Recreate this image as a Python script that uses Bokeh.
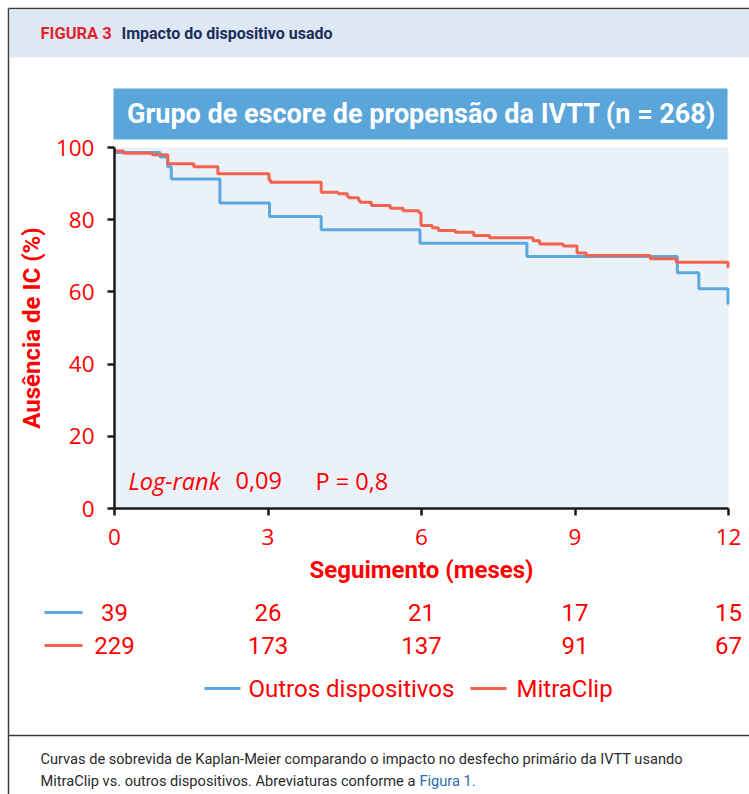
from bokeh.plotting import figure
from bokeh.models import Range1d, FixedTicker, LinearAxis
from bokeh.core.properties import value
from bokeh.embed import file_html
from bokeh.resources import INLINE

# ---------------- data ----------------
months = [0, 3, 6, 9, 12]
y_ticks = [0, 20, 40, 60, 80, 100]
at_risk_outros = [39, 26, 21, 17, 15]
at_risk_mitraclip = [229, 173, 137, 91, 67]

mitraclip_t = [0, 0.18, 0.74, 1.04, 1.55, 2.02, 3.02, 3.05, 4.04, 4.37, 4.55, 4.58,
               4.77, 4.80, 5.02, 5.39, 5.64, 5.95, 5.99, 6.21, 6.33, 6.66, 7.02, 7.33,
               8.18, 8.31, 8.77, 9.04, 9.22, 10.47, 10.98, 11.99, 12.0]
mitraclip_s = [99.0, 98.4, 98.0, 95.5, 94.7, 92.7, 91.0, 90.4, 87.6, 87.2, 86.4, 86.1,
               85.3, 84.8, 83.9, 83.2, 82.5, 81.9, 78.4, 77.8, 77.0, 76.5, 75.6, 75.0,
               74.2, 73.3, 72.7, 70.8, 70.1, 69.2, 68.2, 66.8, 66.8]

outros_t = [0, 0.89, 1.04, 1.11, 2.06, 3.03, 4.04, 5.97, 8.06, 11.0, 11.42, 11.99, 12.0]
outros_s = [98.6, 97.4, 94.7, 91.3, 84.6, 80.9, 77.2, 73.5, 69.8, 65.3, 60.9, 56.7, 56.7]

title_text = "Grupo de escore de propensão da IVTT (n = 268)"
fig_label = "FIGURA 3"
fig_title = "Impacto do dispositivo usado"
x_label = "Seguimento (meses)"
y_label = "Ausência de IC (%)"
series_names = ["Outros dispositivos", "MitraClip"]
stat_texts = ["Log-rank", "0,09", "P = 0,8"]
caption_1 = "Curvas de sobrevida de Kaplan-Meier comparando o impacto no desfecho primário da IVTT usando"
caption_2 = "MitraClip vs. outros dispositivos. Abreviaturas conforme a"
caption_link = "Figura 1."

# ---------------- layout (pixels of the page) ----------------
W, H = 749, 794
FX0, FX1 = 114, 728      # plot area left/right (px)
FY0, FY1 = 147, 508      # plot area top/bottom (px)
X_MAX, Y_MAX = 12, 100
PXU = (FX1 - FX0) / X_MAX
PYU = (FY1 - FY0) / Y_MAX


def dx(px):
    return (px - FX0) / PXU


def dy(py):
    return (FY1 - py) / PYU


RED_TXT = "#ff0000"
BLUE = "#5aa9de"
RED = "#f36350"
FRAME = "#3a3a3a"
COND = value("Roboto")
NUM = value("Open Sans")

p = figure(width=W, height=H, x_range=Range1d(dx(0), dx(W)), y_range=Range1d(dy(H), dy(0)),
           x_axis_type=None, y_axis_type=None, toolbar_location=None,
           output_backend="svg", min_border=0, outline_line_color=None,
           background_fill_color="white", border_fill_color="white")
p.grid.visible = False

# frame of the figure panel
p.segment(x0=[dx(8)], x1=[dx(W)], y0=[dy(8)], y1=[dy(8)], line_color=FRAME, line_width=1.5)
p.segment(x0=[dx(8)], x1=[dx(8)], y0=[dy(8)], y1=[dy(H)], line_color=FRAME, line_width=1.5)
p.segment(x0=[dx(8)], x1=[dx(W)], y0=[dy(735)], y1=[dy(735)], line_color=FRAME, line_width=1.5)

# header band
p.quad(left=dx(9), right=dx(W), top=dy(9), bottom=dy(57), fill_color="#dde8f4", line_color=None)
p.text(x=[dx(40)], y=[dy(33)], text=[fig_label], text_font=COND, text_font_style="bold",
       text_font_size="16.5px", text_color="#e3222d", text_baseline="middle")
p.text(x=[dx(121)], y=[dy(33)], text=[fig_title], text_font=COND, text_font_style="bold",
       text_font_size="16px", text_color="#1c2d5c", text_baseline="middle")

# title box
p.quad(left=dx(113), right=dx(727), top=dy(88), bottom=dy(139), fill_color="#5aa5da", line_color=None)
p.text(x=[dx(421)], y=[dy(113)], text=[title_text], text_font=COND, text_font_style="bold",
       text_font_size="27px", text_color="white", text_align="center", text_baseline="middle")

# plot area background
p.quad(left=0, right=X_MAX, bottom=0, top=Y_MAX, fill_color="#eaf1f9", line_color=None)

# axes
xa = LinearAxis(fixed_location=0, bounds=(0, X_MAX), ticker=FixedTicker(ticks=months),
                axis_label=x_label)
ya = LinearAxis(fixed_location=0, bounds=(0, Y_MAX), ticker=FixedTicker(ticks=y_ticks),
                axis_label=y_label)
for ax in (xa, ya):
    ax.axis_line_width = 2.5
    ax.axis_line_color = "#1a1a1a"
    ax.major_tick_line_width = 2.5
    ax.major_tick_line_color = "#1a1a1a"
    ax.major_tick_out = 7
    ax.major_tick_in = 0
    ax.minor_tick_line_color = None
    ax.major_label_text_color = RED_TXT
    ax.major_label_text_font = "Open Sans"
    ax.major_label_text_font_size = "22.5px"
    ax.axis_label_text_color = RED_TXT
    ax.axis_label_text_font = "Roboto"
    ax.axis_label_text_font_style = "bold"
    ax.axis_label_text_font_size = "24px"
xa.major_label_standoff = 13
xa.axis_label_standoff = 8
ya.major_label_standoff = 13
ya.axis_label_standoff = 7
p.add_layout(xa, "below")
p.add_layout(ya, "left")

# Kaplan-Meier curves
p.step(outros_t, outros_s, mode="after", line_color=BLUE, line_width=3)
p.step(mitraclip_t, mitraclip_s, mode="after", line_color=RED, line_width=3)

# statistics
p.text(x=[dx(128)], y=[dy(480)], text=[stat_texts[0]], text_font=NUM, text_font_style="italic",
       text_font_size="23.5px", text_color=RED_TXT, text_baseline="middle")
p.text(x=[dx(235), dx(315)], y=[dy(480), dy(480)], text=stat_texts[1:], text_font=NUM,
       text_font_size="23.5px", text_color=RED_TXT, text_baseline="middle")

# numbers at risk
p.segment(x0=[dx(44)], x1=[dx(82)], y0=[dy(612)], y1=[dy(612)], line_color=BLUE, line_width=3)
p.segment(x0=[dx(44)], x1=[dx(82)], y0=[dy(645)], y1=[dy(645)], line_color=RED, line_width=3)
p.text(x=months, y=[dy(612)] * len(months), text=[str(v) for v in at_risk_outros],
       text_font=COND, text_font_size="24px", text_color=RED_TXT,
       text_align="center", text_baseline="middle")
p.text(x=months, y=[dy(645)] * len(months), text=[str(v) for v in at_risk_mitraclip],
       text_font=COND, text_font_size="24px", text_color=RED_TXT,
       text_align="center", text_baseline="middle")

# legend
p.segment(x0=[dx(204), dx(470)], x1=[dx(240), dx(506)], y0=[dy(688)] * 2, y1=[dy(688)] * 2,
          line_color=[BLUE, RED], line_width=3)
p.text(x=[dx(248), dx(516)], y=[dy(688)] * 2, text=series_names, text_font=COND,
       text_font_size="24px", text_color=RED_TXT, text_baseline="middle")

# caption
p.text(x=[dx(40), dx(40)], y=[dy(758), dy(780)], text=[caption_1, caption_2], text_font=COND,
       text_font_size="14.6px", text_color="#2b2b2b", text_baseline="middle")
p.text(x=[dx(419)], y=[dy(780)], text=[caption_link], text_font=COND,
       text_font_size="14.6px", text_color="#2a6cb1", text_baseline="middle")

open("out.html", "w").write(file_html(p, INLINE))
